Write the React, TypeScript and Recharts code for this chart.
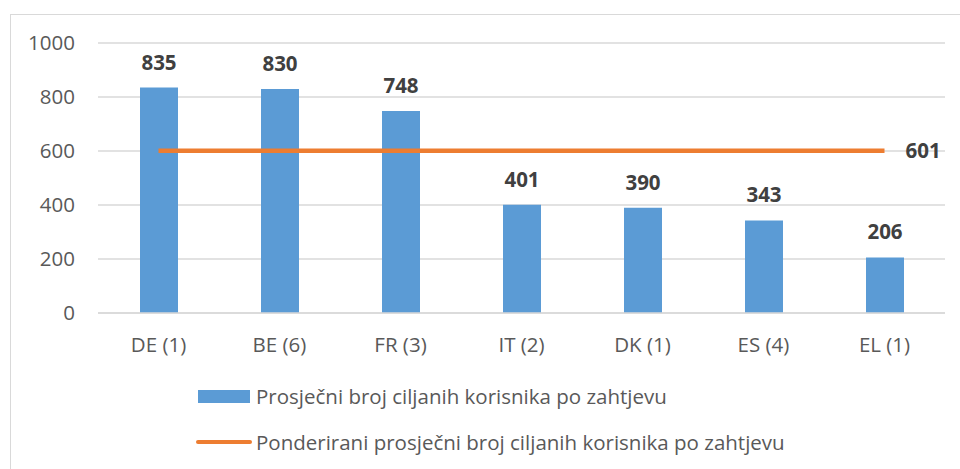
import React from "react";
import {
  ComposedChart,
  Bar,
  Line,
  XAxis,
  YAxis,
  CartesianGrid,
  LabelList,
} from "recharts";

const countries = ["DE (1)", "BE (6)", "FR (3)", "IT (2)", "DK (1)", "ES (4)", "EL (1)"];
const avgUsers = [835, 830, 748, 401, 390, 343, 206];
const weightedAvg = [601, 601, 601, 601, 601, 601, 601];
const yTicks = [0, 200, 400, 600, 800, 1000];

const barName = "Prosječni broj ciljanih korisnika po zahtjevu";
const lineName = "Ponderirani prosječni broj ciljanih korisnika po zahtjevu";

const data = countries.map((c, i) => ({
  name: c,
  avg: avgUsers[i],
  weighted: weightedAvg[i],
}));

const FONT = "'Open Sans', sans-serif";
const FS = 20.5;

const LastLabel = (props: any) => {
  const { x, y, value, index } = props;
  if (index !== countries.length - 1) return null;
  return (
    <text
      x={x + 21}
      y={y}
      dy="0.35em"
      fill="#404040"
      fontSize={FS}
      fontWeight="bold"
      fontFamily={FONT}
    >
      {value}
    </text>
  );
};

const App: React.FC = () => {
  return (
    <div
      style={{
        position: "absolute",
        left: 0,
        top: 0,
        width: 960,
        height: 469,
        background: "#FFFFFF",
        overflow: "hidden",
        fontFamily: FONT,
      }}
    >
      <div
        style={{
          position: "absolute",
          left: 10,
          top: 14,
          width: 980,
          height: 500,
          border: "1.5px solid #d9d9d9",
        }}
      />
      <ComposedChart
        width={960}
        height={469}
        data={data}
        margin={{ top: 43, right: 15, left: 0, bottom: 116 }}
        style={{ position: "absolute", left: 0, top: 0 }}
      >
        <CartesianGrid vertical={false} stroke="#d9d9d9" strokeWidth={1.5} />
        <XAxis
          dataKey="name"
          axisLine={{ stroke: "#d9d9d9", strokeWidth: 1.5 }}
          tickLine={false}
          tickMargin={18}
          height={40}
          tick={{ fill: "#595959", fontSize: FS, fontFamily: FONT }}
        />
        <YAxis
          domain={[0, 1000]}
          ticks={yTicks}
          width={98}
          axisLine={false}
          tickLine={false}
          tickMargin={17}
          tick={{ fill: "#595959", fontSize: FS, fontFamily: FONT }}
        />
        <Bar dataKey="avg" name={barName} fill="#5B9BD5" barSize={38} isAnimationActive={false}>
          <LabelList
            dataKey="avg"
            position="top"
            offset={18}
            fill="#404040"
            fontSize={FS}
            fontWeight="bold"
            fontFamily={FONT}
          />
        </Bar>
        <Line
          dataKey="weighted"
          name={lineName}
          stroke="#ED7D31"
          strokeWidth={4.5}
          dot={false}
          activeDot={false}
          isAnimationActive={false}
        >
          <LabelList dataKey="weighted" content={LastLabel} />
        </Line>
      </ComposedChart>
      <div style={{ position: "absolute", left: 196, top: 380, color: "#595959", fontSize: FS }}>
        <div style={{ display: "flex", alignItems: "center", height: 32 }}>
          <span style={{ display: "inline-block", width: 52, height: 13, background: "#5B9BD5", marginLeft: 2, marginRight: 6 }} />
          <span>{barName}</span>
        </div>
        <div style={{ display: "flex", alignItems: "center", height: 32, marginTop: 14 }}>
          <span style={{ display: "inline-block", width: 56, height: 4.5, borderRadius: 3, background: "#ED7D31", marginRight: 4 }} />
          <span>{lineName}</span>
        </div>
      </div>
    </div>
  );
};

export default App;
